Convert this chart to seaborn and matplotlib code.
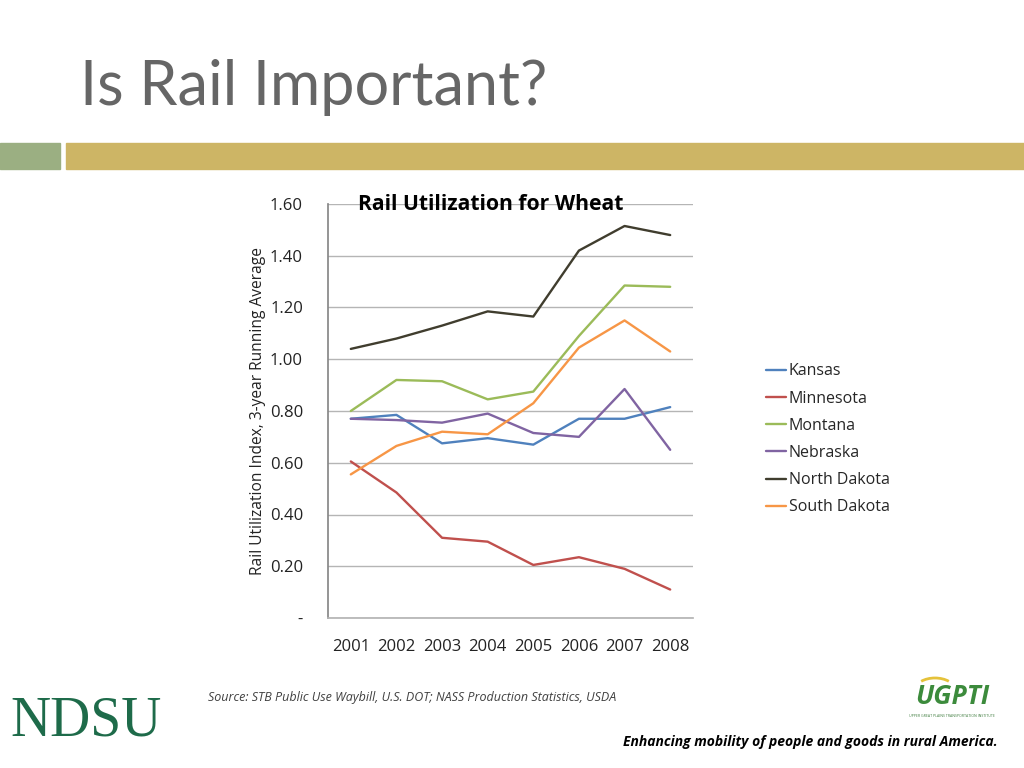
import matplotlib
matplotlib.use("Agg")
import matplotlib.pyplot as plt
import matplotlib.patches as mpatches
import numpy as np
import pandas as pd
import seaborn as sns

years = ["2001", "2002", "2003", "2004", "2005", "2006", "2007", "2008"]
kansas = [0.77, 0.785, 0.675, 0.695, 0.67, 0.77, 0.77, 0.815]
minnesota = [0.605, 0.485, 0.31, 0.295, 0.205, 0.235, 0.19, 0.11]
montana = [0.80, 0.92, 0.915, 0.845, 0.875, 1.09, 1.285, 1.28]
nebraska = [0.77, 0.765, 0.755, 0.79, 0.715, 0.70, 0.885, 0.65]
north_dakota = [1.04, 1.08, 1.13, 1.185, 1.165, 1.42, 1.515, 1.48]
south_dakota = [0.555, 0.665, 0.72, 0.71, 0.83, 1.045, 1.15, 1.03]

states = ["Kansas", "Minnesota", "Montana", "Nebraska", "North Dakota", "South Dakota"]
series = [kansas, minnesota, montana, nebraska, north_dakota, south_dakota]
colors = ["#4F81BD", "#C0504D", "#9BBB59", "#8064A2", "#403D2E", "#F79646"]

rows = []
for state, vals in zip(states, series):
    for yr, v in zip(years, vals):
        rows.append({"Year": yr, "State": state, "Index": v})
df = pd.DataFrame(rows)

sns.set_theme(style="white")
plt.rcParams["font.family"] = ["Open Sans", "DejaVu Sans"]

fig = plt.figure(figsize=(10.24, 7.68), dpi=100)
W, H = 1024, 768

def fx(px):
    return px / W

def fy(py):
    return 1 - py / H

# header decoration
fig.text(fx(80), fy(105), "Is Rail Important?", fontsize=44, color="#666666",
         family=["Lato", "DejaVu Sans"], va="baseline", ha="left")
fig.patches.append(mpatches.Rectangle((fx(0), fy(169)), fx(60), 26 / H,
                                      transform=fig.transFigure, color="#9BAF82"))
fig.patches.append(mpatches.Rectangle((fx(66), fy(169)), fx(958), 26 / H,
                                      transform=fig.transFigure, color="#CDB565"))

ax = fig.add_axes([fx(328), fy(618), fx(365), 414 / H])
sns.lineplot(data=df, x="Year", y="Index", hue="State", palette=colors,
             hue_order=states, linewidth=1.7, ax=ax, sort=False)

ax.set_xlim(-0.5, 7.5)
ax.set_ylim(0, 1.6)
yt = np.arange(0, 1.61, 0.2)
ax.set_yticks(yt)
ax.set_yticklabels(["-"] + [f"{v:.2f}" for v in yt[1:]])
ax.yaxis.grid(True, color="#B5B5B5", linewidth=1)
ax.xaxis.grid(False)
for s in ["top", "right"]:
    ax.spines[s].set_visible(False)
ax.spines["left"].set_color("#888888")
ax.spines["bottom"].set_color("#B5B5B5")
ax.tick_params(axis="both", length=0, labelsize=12, labelcolor="#222222")
ax.tick_params(axis="x", pad=15)
ax.tick_params(axis="y", pad=18)
ax.set_xlabel("")
ax.set_ylabel("Rail Utilization Index, 3-year Running Average", fontsize=11.2,
              color="#222222", labelpad=3)
ax.text(0.447, 1.0, "Rail Utilization for Wheat", transform=ax.transAxes,
        ha="center", va="center", fontsize=15.2, fontweight="bold", color="black")

handles, labels = ax.get_legend_handles_labels()
ax.legend(handles, labels, loc="upper left", bbox_to_anchor=(fx(752), fy(349)),
          bbox_transform=fig.transFigure, frameon=False, fontsize=11.5,
          handlelength=1.2, handletextpad=0.2, labelspacing=0.7)

# footer
fig.text(fx(208), fy(697), "Source: STB Public Use Waybill, U.S. DOT; NASS Production Statistics, USDA",
         fontsize=9, style="italic", color="#404040", va="center", ha="left")
fig.text(fx(10), fy(735), "NDSU", fontsize=40, color="#1E6B4A",
         family=["Liberation Serif", "DejaVu Serif"], va="baseline", ha="left")
fig.text(fx(952), fy(697), "UGPTI", fontsize=19, color="#3C8B3C", fontweight="bold",
         style="italic", va="center", ha="center")
fig.patches.append(mpatches.Arc((fx(935), fy(690)), 40 / W, 24 / H, theta1=40, theta2=140,
                                transform=fig.transFigure, color="#E5C23A", linewidth=2))
fig.text(fx(952), fy(716), "UPPER GREAT PLAINS TRANSPORTATION INSTITUTE", fontsize=2.5,
         color="#3C7B3C", ha="center", va="center")
fig.text(fx(998), fy(742), "Enhancing mobility of people and goods in rural America.",
         fontsize=10, fontweight="bold", style="italic", color="black",
         ha="right", va="center")

fig.savefig("out.png", dpi=100)
